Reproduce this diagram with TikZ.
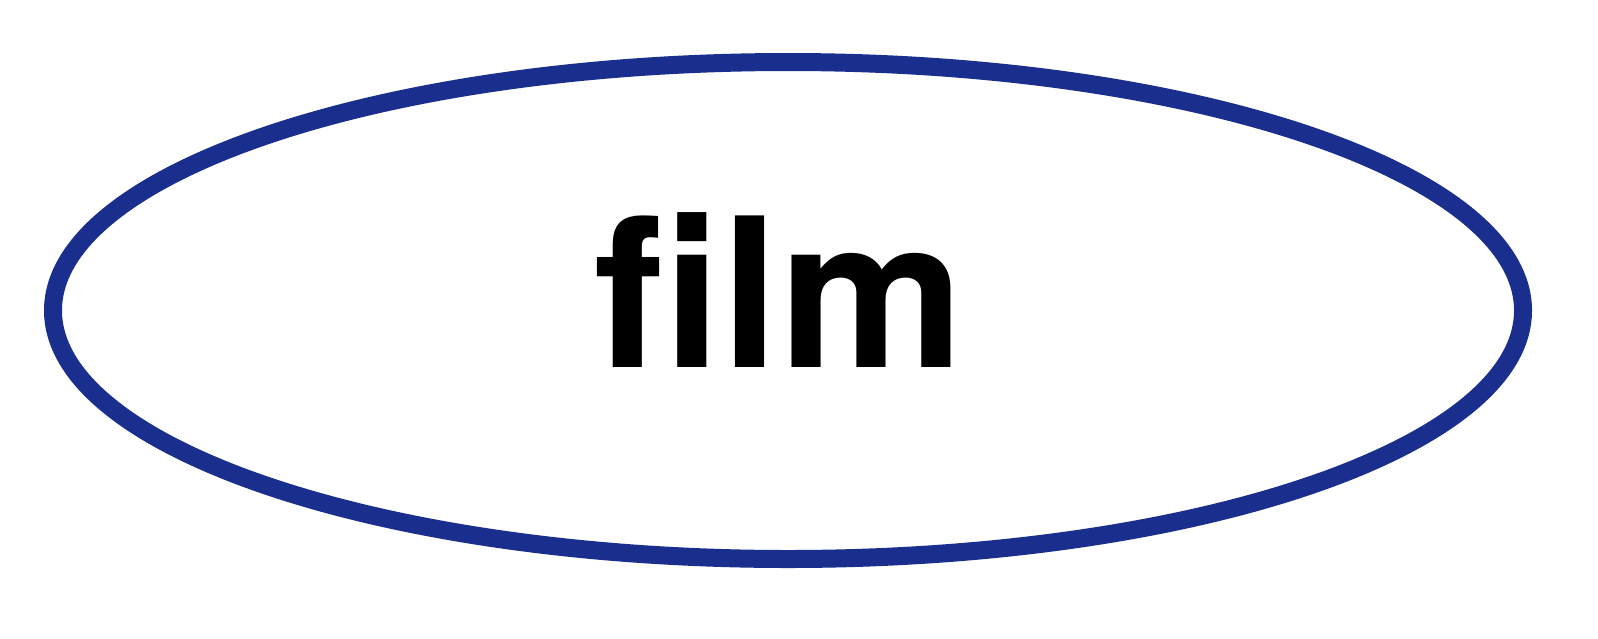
\documentclass[tikz,border=0pt]{standalone}
\usepackage{fontspec}
\newfontfamily\herosbold{TeX Gyre Heros}[BoldFont={* Bold}]
\definecolor{ringblue}{HTML}{1A2E8E}
\tikzset{ring/.style={draw=ringblue, line width=9pt}}
\begin{document}
\begin{tikzpicture}[x=0.5pt,y=-0.5pt]
\useasboundingbox (0,0) rectangle (1598,638);
\draw[ring] (788,310.5) ellipse [x radius=735, y radius=248.5];
\node[inner sep=0, anchor=base, font=\herosbold\bfseries\fontsize{104}{104}\selectfont] (film) at (779,367) {film};
\end{tikzpicture}
\end{document}
